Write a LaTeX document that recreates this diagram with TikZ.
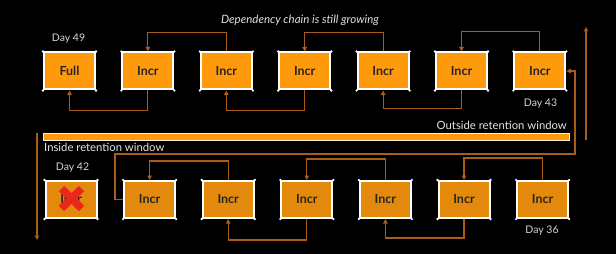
\documentclass[tikz,border=0pt]{standalone}
\usepackage{fontspec}
\setmainfont{Lato}
\usetikzlibrary{arrows.meta,calc}
\definecolor{boxtop}{HTML}{FF9A0C}
\definecolor{boxbot}{HTML}{E3890C}
\definecolor{conn}{HTML}{A85E1A}
\definecolor{barfill}{HTML}{FF9A0C}
\definecolor{xred}{HTML}{E8281C}
\definecolor{lbl}{HTML}{D4D4D4}
\tikzset{
  box/.style={draw=white, line width=2pt, minimum width=51pt, minimum height=37pt,
    inner sep=0pt, font=\fontsize{12.5}{12.5}\selectfont\bfseries, text=black!85},
  topbox/.style={box, fill=boxtop},
  botbox/.style={box, fill=boxbot},
  connector/.style={draw=conn, line width=1.1pt, -{Triangle[length=4.5pt,width=4.5pt]}},
  daylbl/.style={text=lbl, font=\fontsize{10.5}{10.5}\selectfont, inner sep=0pt},
  winlbl/.style={text=white!90!black, font=\fontsize{11.3}{11.3}\selectfont, inner sep=0pt}
}
\begin{document}
\begin{tikzpicture}[x=1pt,y=-1pt]
\fill[black] (0,0) rectangle (616,254);
\useasboundingbox (0,0) rectangle (616,254);

% top row
\node[topbox] (t1) at (69.5,71) {Full};
\node[topbox] (t2) at (147.9,71) {Incr};
\node[topbox] (t3) at (226.3,71) {Incr};
\node[topbox] (t4) at (304.7,71) {Incr};
\node[topbox] (t5) at (383.1,71) {Incr};
\node[topbox] (t6) at (461.5,71) {Incr};
\node[topbox] (t7) at (539.9,71) {Incr};

% bottom row
\node[botbox] (b1) at (71,199.5) {Incr};
\node[botbox] (b2) at (149.6,199.5) {Incr};
\node[botbox] (b3) at (228.2,199.5) {Incr};
\node[botbox] (b4) at (306.8,199.5) {Incr};
\node[botbox] (b5) at (385.4,199.5) {Incr};
\node[botbox] (b6) at (464,199.5) {Incr};
\node[botbox] (b7) at (542.6,199.5) {Incr};

% corner dots
\foreach \n in {t1,t2,t3,t4,t5,t6,t7,b1,b2,b3,b4,b5,b6,b7}
  \foreach \a in {north west,north east,south west,south east}
    \fill[white] (\n.\a) circle (1.3pt);

% red cross
\coordinate (xc) at (71.5,198.5);
\draw[xred, line width=7.5pt] ($(xc)+(-10,-10)$) -- ($(xc)+(10,10)$);
\draw[xred, line width=7.5pt] ($(xc)+(-10,10)$) -- ($(xc)+(10,-10)$);

% top connectors
\draw[connector] (t2.south) -- ++(0,20) -| (t1.south);
\draw[connector] (t3.north) -- ++(0,-19) -| (t2.north);
\draw[connector] (t4.south) -- ++(0,20) -| (t3.south);
\draw[connector] (t5.north) -- ++(0,-19) -| (t4.north);
\draw[connector] (t6.south) -- ++(0,18) -| (t5.south);
\draw[connector] (t7.north) -- ++(0,-20) -| (t6.north);

% bottom connectors
\draw[connector] (b3.north) -- ++(0,-19) -| (b2.north);
\draw[connector] (b4.south) -- ++(0,21) -| (b3.south);
\draw[connector] (b5.north) -- ++(0,-21) -| (b4.north);
\draw[connector] (b6.south) -- ++(0,19) -| (b5.south);
\draw[connector] (b7.north) -- ++(0,-22) -| (b6.north);

% long connector from bottom row to top row
\coordinate (lc1) at (115,154);
\coordinate (lc2) at (575,154);
\draw[connector] (b2.west) -| (lc1) -- (lc2) |- (t7.east);

% retention bar
\fill[barfill, draw=white!85!orange, line width=0.6pt] (43,133) rectangle (569,140);

% side arrows
\coordinate (ua1) at (586,140);
\coordinate (ua2) at (586,27);
\draw[connector] (ua1) -- (ua2);
\coordinate (da1) at (37,133);
\coordinate (da2) at (37,240);
\draw[connector] (da1) -- (da2);

% labels
\node[text=white!88!black, font=\fontsize{11.5}{11.5}\selectfont\itshape, inner sep=0pt] (title) at (300,20) {Dependency chain is still growing};
\node[daylbl] (d49) at (68.5,39) {Day 49};
\node[daylbl] (d43) at (540.5,104) {Day 43};
\node[daylbl] (d42) at (72.5,168) {Day 42};
\node[daylbl] (d36) at (542,231) {Day 36};
\node[winlbl, anchor=east] (outw) at (567,125) {Outside retention window};
\node[winlbl, anchor=west] (inw) at (44,147) {Inside retention window};
\end{tikzpicture}
\end{document}
